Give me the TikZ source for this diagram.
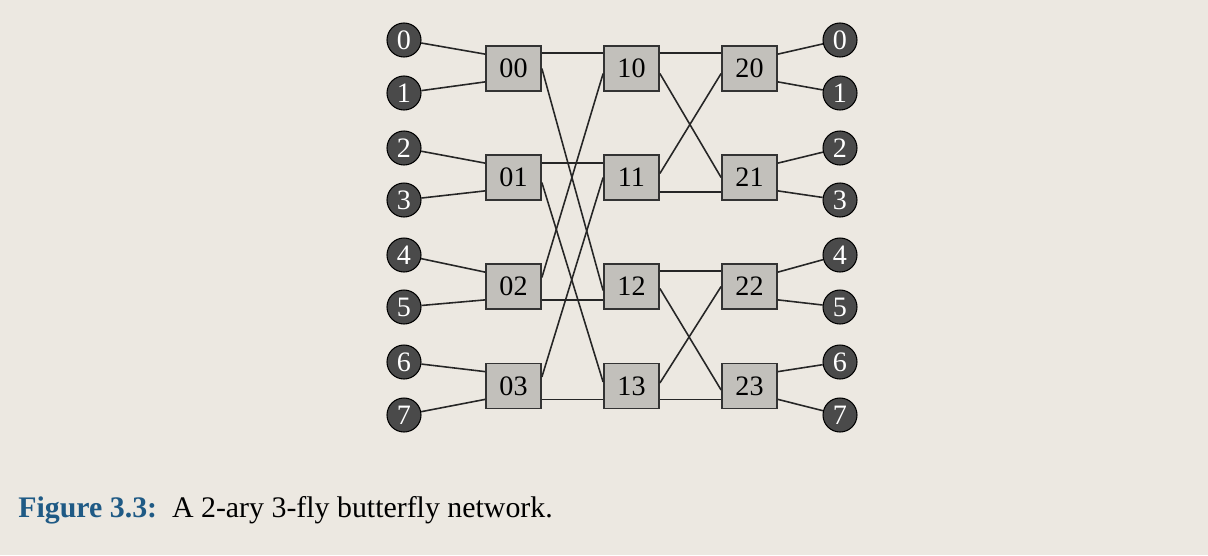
\documentclass[tikz,border=0pt]{standalone}
\usepackage{fontspec}
\setmainfont{Liberation Serif}
\definecolor{paper}{HTML}{ECE8E1}
\definecolor{boxgray}{HTML}{C2C0BB}
\definecolor{portgray}{HTML}{4A4A4A}
\definecolor{capblue}{HTML}{1F5A85}
\tikzset{
  port/.style={circle,fill=portgray,draw=black,line width=0.6pt,text=white,minimum size=34*0.02cm,inner sep=0pt,font=\fontsize{16}{16}\selectfont},
  switch/.style={rectangle,fill=boxgray,draw=black!80,line width=1pt,minimum width=55*0.02cm,minimum height=45*0.02cm,inner sep=0pt,font=\fontsize{16}{16}\selectfont},
  wire/.style={black!85,line width=0.9pt}
}
\begin{document}
\begin{tikzpicture}[x=0.02cm,y=-0.02cm]
\fill[paper] (0,0) rectangle (1208,555);
% terminals
\foreach \i/\y in {0/40,1/93,2/148,3/200,4/255,5/307,6/362,7/415}
{
    \node[port] (in\i) at (404,\y) {\i};
    \node[port] (out\i) at (840,\y) {\i};
}
% switches
\foreach \r/\y in {0/68.5,1/177.5,2/286.5,3/386}
{
    \node[switch] (s0\r) at (513.5,\y) {0\r};
    \node[switch] (s1\r) at (631.5,\y) {1\r};
    \node[switch] (s2\r) at (749.5,\y) {2\r};
}
% terminal wires
\foreach \r/\a/\b in {0/0/1,1/2/3,2/4/5,3/6/7}
{
    \draw[wire] (in\a) -- ([yshift=-9*0.02cm]s0\r.north west);
    \draw[wire] (in\b) -- ([yshift=10*0.02cm]s0\r.south west);
    \draw[wire] (out\a) -- ([yshift=-9*0.02cm]s2\r.north east);
    \draw[wire] (out\b) -- ([yshift=10*0.02cm]s2\r.south east);
}
% straight wires
\draw[wire] ([yshift=-8*0.02cm]s00.north east) -- ([yshift=-8*0.02cm]s10.north west);
\draw[wire] ([yshift=-9*0.02cm]s01.north east) -- ([yshift=-9*0.02cm]s11.north west);
\draw[wire] ([yshift=10*0.02cm]s02.south east) -- ([yshift=10*0.02cm]s12.south west);
\draw[wire] ([yshift=10*0.02cm]s03.south east) -- ([yshift=10*0.02cm]s13.south west);
\draw[wire] ([yshift=-8*0.02cm]s10.north east) -- ([yshift=-8*0.02cm]s20.north west);
\draw[wire] ([yshift=9*0.02cm]s11.south east) -- ([yshift=9*0.02cm]s21.south west);
\draw[wire] ([yshift=-8*0.02cm]s12.north east) -- ([yshift=-8*0.02cm]s22.north west);
\draw[wire] ([yshift=10*0.02cm]s13.south east) -- ([yshift=10*0.02cm]s23.south west);
% crossing wires
\draw[wire] (s00.east) -- ([yshift=-4*0.02cm]s12.west);
\draw[wire] ([yshift=9*0.02cm]s02.east) -- ([yshift=-5*0.02cm]s10.west);
\draw[wire] ([yshift=-5*0.02cm]s01.east) -- ([yshift=4*0.02cm]s13.west);
\draw[wire] ([yshift=9*0.02cm]s03.east) -- (s11.west);
\draw[wire] ([yshift=-5*0.02cm]s10.east) -- (s21.west);
\draw[wire] ([yshift=4*0.02cm]s11.east) -- ([yshift=-5*0.02cm]s20.west);
\draw[wire] ([yshift=-2*0.02cm]s12.east) -- ([yshift=-4*0.02cm]s23.west);
\draw[wire] ([yshift=3*0.02cm]s13.east) -- (s22.west);
% caption
\node[anchor=base west,inner sep=0pt,font=\fontsize{17}{17}\selectfont] (caption) at (18,517)
  {\textcolor{capblue}{\textbf{Figure 3.3:}}\enspace A 2-ary 3-fly butterfly network.};
\end{tikzpicture}
\end{document}
